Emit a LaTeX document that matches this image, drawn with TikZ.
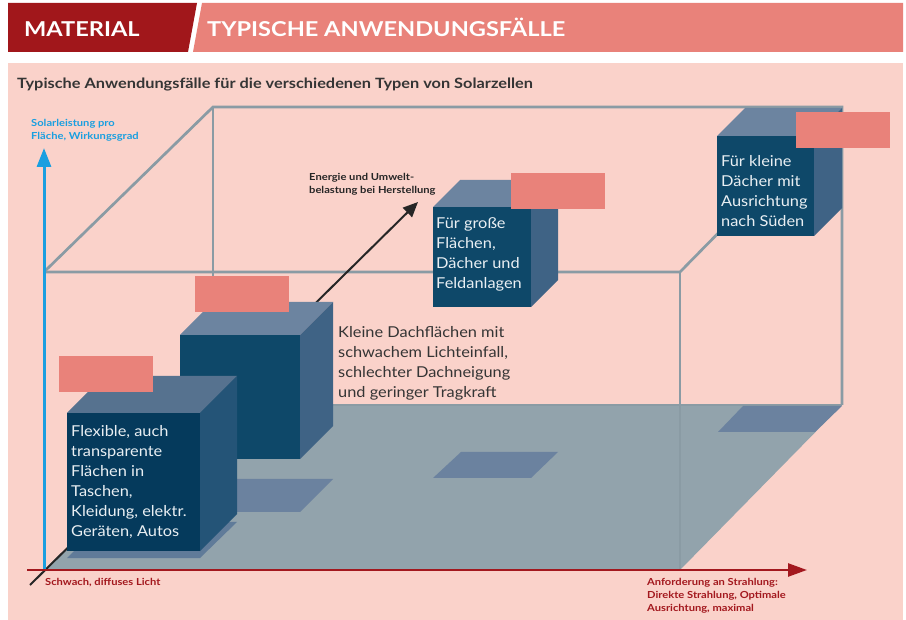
\documentclass[tikz,border=0pt]{standalone}
\usepackage{fontspec}
\setmainfont{Lato}[UprightFeatures={FakeStretch=1.09}, BoldFeatures={FakeStretch=1.15}]
\usetikzlibrary{arrows.meta}

\definecolor{headdark}{HTML}{A1171B}
\definecolor{headlight}{HTML}{E9827A}
\definecolor{panelpink}{HTML}{FAD2CA}
\definecolor{wiregray}{HTML}{8A9BA4}
\definecolor{floorgray}{HTML}{92A3AC}
\definecolor{shadowblue}{HTML}{6B829F}
\definecolor{cubeblue}{HTML}{0E4869}
\definecolor{cubetopblue}{HTML}{6C84A0}
\definecolor{cubesideblue}{HTML}{3F6385}
\definecolor{frontblue}{HTML}{053A5C}
\definecolor{fronttopblue}{HTML}{56728F}
\definecolor{frontsideblue}{HTML}{245477}
\definecolor{axisblue}{HTML}{1A9FE0}
\definecolor{axisred}{HTML}{A3181E}
\definecolor{textgray}{HTML}{353535}
\definecolor{cubewhite}{HTML}{E9EFF3}

\begin{document}
\begin{tikzpicture}[x=1pt, y=-1pt,
    wire/.style={draw=wiregray, line width=2.7pt},
    cubefront/.style={fill=cubeblue, inner sep=0pt, outer sep=0pt, anchor=north west},
    cubetop/.style={fill=cubetopblue},
    cubeside/.style={fill=cubesideblue},
    cubetext/.style={anchor=north west, inner sep=0pt, align=left, text=cubewhite,
        font=\fontsize{15}{20}\selectfont},
    tagbox/.style={fill=headlight, inner sep=0pt, outer sep=0pt, anchor=north west,
        minimum width=94pt, minimum height=36pt},
    axislabel/.style={anchor=north west, inner sep=0pt, align=left,
        font=\fontsize{9.7}{13}\selectfont\bfseries},
    headtext/.style={anchor=base west, inner sep=0pt, text=white,
        font=\fontsize{20.5}{21}\selectfont\bfseries}]

    \useasboundingbox (0,0) rectangle (906,620);
    \fill[white] (0,0) rectangle (906,620);

    % Kopfzeile
    \fill[headdark] (8,3) -- (197,3) -- (188,52) -- (8,52) -- cycle;
    \fill[headlight] (202,3) -- (903,3) -- (903,52) -- (193,52) -- cycle;
    \node[headtext] (material) at (24,37) {MATERIAL};
    \node[headtext] (typisch) at (207,37) {TYPISCHE ANWENDUNGSFÄLLE};

    \fill[panelpink] (8,63) rectangle (903,620);
    \node[
        anchor=base west,
        inner sep=0pt,
        text=textgray,
        font=\fontsize{14.2}{16}\selectfont\bfseries
    ] (titel) at (17,89) {Typische Anwendungsfälle für die verschiedenen Typen von Solarzellen};

    % Drahtmodell
    \coordinate (blt) at (213,107);
    \coordinate (brt) at (842,107);
    \coordinate (brb) at (842,405);
    \coordinate (blb) at (213,405);
    \coordinate (flt) at (44,272);
    \coordinate (frt) at (680,272);
    \coordinate (frb) at (680,570);
    \coordinate (flb) at (44,570);

    \draw[wire] (flt) -- (blt) -- (brt) -- (brb);
    \draw[wire] (blt) -- (blb);
    \draw[wire] (flt) -- (frt) -- (brt);
    \fill[floorgray] (flb) -- (frb) -- (brb) -- (blb) -- cycle;
    \draw[wire] (blb) -- (brb);
    \draw[wire] (frt) -- (frb);

    % Schatten
    \fill[shadowblue] (718,432) -- (815,432) -- (842,406) -- (743,406) -- cycle;
    \fill[shadowblue] (433,478) -- (531,478) -- (558,452) -- (461,452) -- cycle;
    \fill[shadowblue] (180,512) -- (300,512) -- (333,479) -- (213,479) -- cycle;
    \fill[shadowblue!85!frontsideblue] (67,558) -- (200,558) -- (237,522) -- (104,522) -- cycle;

    % Herstellung
    \coordinate (estart) at (30,585);
    \coordinate (eend) at (418,202);
    \draw[black!85, line width=2pt, -{Triangle[length=15pt,width=13pt]}] (estart) -- (eend);

    % Wuerfel Sueden
    \node[
        cubefront,
        minimum width=97pt,
        minimum height=100pt
    ] (suedbox) at (717,136) {};
    \fill[cubetop] (suedbox.north west) -- (suedbox.north east) -- ++(28,-28) -- ++(-97,0) -- cycle;
    \fill[cubeside] (suedbox.north east) -- ++(28,-28) -- ++(0,100) -- (suedbox.south east) -- cycle;
    \node[cubetext] (suedtext) at (721,155) {Für kleine\\Dächer mit\\Ausrichtung\\nach Süden};
    \node[tagbox] (suedtag) at (796,112) {};

    % Wuerfel Feld
    \node[
        cubefront,
        minimum width=98pt,
        minimum height=100pt
    ] (feldbox) at (433,207) {};
    \fill[cubetop] (feldbox.north west) -- (feldbox.north east) -- ++(27,-27) -- ++(-98,0) -- cycle;
    \fill[cubeside] (feldbox.north east) -- ++(27,-27) -- ++(0,100) -- (feldbox.south east) -- cycle;
    \node[cubetext] (feldtext) at (436,217) {Für große\\Flächen,\\Dächer und\\Feldanlagen};
    \node[tagbox] (feldtag) at (511,173) {};

    % Wuerfel Dach
    \node[
        cubefront,
        minimum width=120pt,
        minimum height=124pt
    ] (dachbox) at (180,335) {};
    \fill[cubetop] (dachbox.north west) -- (dachbox.north east) -- ++(33,-33) -- ++(-120,0) -- cycle;
    \fill[cubeside] (dachbox.north east) -- ++(33,-33) -- ++(0,124) -- (dachbox.south east) -- cycle;
    \node[tagbox] (dachtag) at (195,276) {};
    \node[cubetext, text=textgray] (dachtext) at (338,326)
        {Kleine Dachflächen mit\\schwachem Lichteinfall,\\schlechter Dachneigung\\und geringer Tragkraft};

    % Wuerfel flexibel
    \node[
        cubefront,
        fill=frontblue,
        minimum width=133pt,
        minimum height=138pt
    ] (flexbox) at (67,413) {};
    \fill[fronttopblue] (flexbox.north west) -- (flexbox.north east) -- ++(37,-37) -- ++(-133,0) -- cycle;
    \fill[frontsideblue] (flexbox.north east) -- ++(37,-37) -- ++(0,138) -- (flexbox.south east) -- cycle;
    \node[cubetext] (flextext) at (71,425)
        {Flexible, auch\\transparente\\Flächen in\\Taschen,\\Kleidung, elektr.\\Geräten, Autos};
    \node[tagbox] (flextag) at (59,356) {};

    % Achsen
    \coordinate (ytip) at (44,148);
    \coordinate (xstart) at (27,570);
    \coordinate (xtip) at (807,570);
    \draw[axisblue, line width=3pt, -{Triangle[length=19pt,width=14pt]}] (flb) -- (ytip);
    \draw[axisred, line width=2.5pt, -{Triangle[length=19pt,width=13pt]}] (xstart) -- (xtip);

    \node[axislabel, text=axisblue] (ylabel) at (31,119.5)
        {Solarleistung pro\\Fläche, Wirkungsgrad};
    \node[axislabel, text=black!85] (elabel) at (309,173)
        {Energie und Umwelt-\\belastung bei Herstellung};
    \node[axislabel, text=axisred] (xlabelleft) at (45,578)
        {Schwach, diffuses Licht};
    \node[axislabel, text=axisred] (xlabelright) at (647,578)
        {Anforderung an Strahlung:\\Direkte Strahlung, Optimale\\Ausrichtung, maximal};
\end{tikzpicture}
\end{document}
